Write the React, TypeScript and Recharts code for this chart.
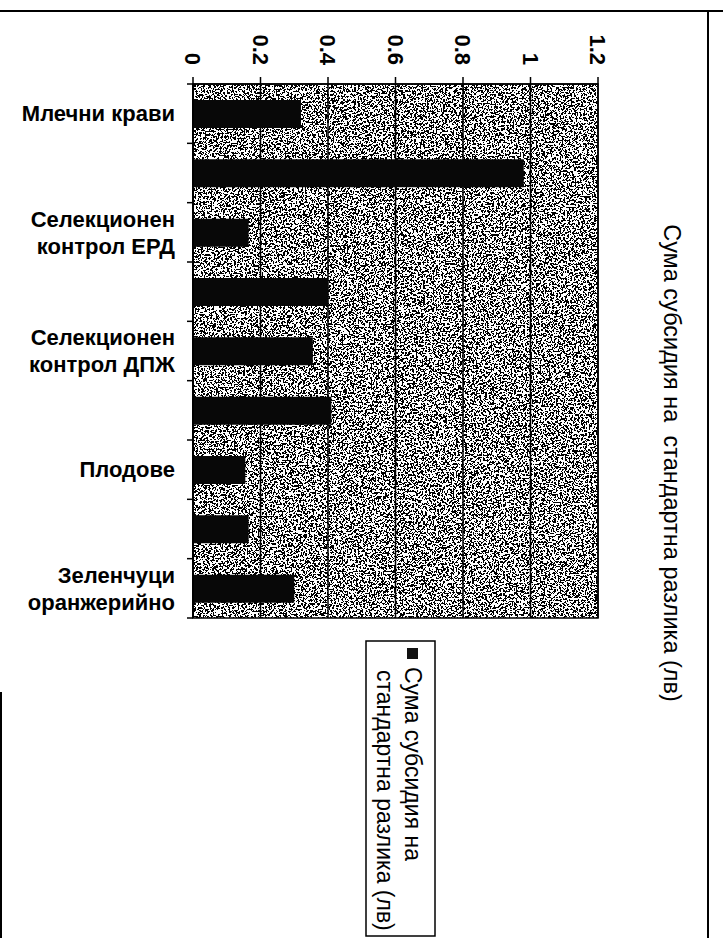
import { BarChart, Bar, XAxis, YAxis, CartesianGrid, ReferenceArea } from 'recharts';

// Excel skips every second category label, so the odd rows stay unlabelled
const categories = [
  'Млечни крави',
  '',
  'Селекционен\nконтрол ЕРД',
  '',
  'Селекционен\nконтрол ДПЖ',
  '',
  'Плодове',
  '',
  'Зеленчуци\nоранжерийно',
];
const values = [0.32, 0.98, 0.165, 0.4, 0.355, 0.41, 0.155, 0.165, 0.3];
const valueTicks = [0, 0.2, 0.4, 0.6, 0.8, 1, 1.2];
const chartTitle = 'Сума субсидия на  стандартна разлика (лв)';
const legendLines = ['Сума субсидия на', 'стандартна разлика (лв)'];

const W = 723;
const H = 938;
const MARGIN = { top: 14, right: 125, bottom: 320, left: 0 };
const X_AXIS_H = 70;
const Y_AXIS_W = 193;
const BAND = (H - MARGIN.top - X_AXIS_H - MARGIN.bottom) / categories.length;
const FONT = '"Liberation Sans", Arial, sans-serif';

const data = categories.map((name, i) => ({ id: i, name, value: values[i] }));

const ValueTick = ({ x, y, payload }: any) => (
  <g transform={`translate(${x},${y - 10}) rotate(90)`}>
    <text textAnchor="end" dy="0.35em" fontSize={22} fontWeight="bold" fill="#000" fontFamily={FONT}>
      {String(payload.value)}
    </text>
  </g>
);

const CategoryTick = ({ y, payload, index }: any) => {
  const axisX = MARGIN.left + Y_AXIS_W;
  const half = BAND / 2;
  const lines = (categories[payload.value] || '').split('\n').filter((l) => l);
  const lh = 27;
  return (
    <g>
      <line x1={axisX - 6} x2={axisX} y1={y - half} y2={y - half} stroke="#000" strokeWidth={1.5} />
      {index === categories.length - 1 && (
        <line x1={axisX - 6} x2={axisX} y1={y + half} y2={y + half} stroke="#000" strokeWidth={1.5} />
      )}
      {lines.map((l, i) => (
        <text
          key={i}
          x={axisX - 18}
          y={y - ((lines.length - 1) * lh) / 2 + i * lh}
          dy="0.35em"
          textAnchor="end"
          fontSize={22}
          fontWeight="bold"
          fill="#000"
          fontFamily={FONT}
        >
          {l}
        </text>
      ))}
    </g>
  );
};

export default function App() {
  return (
    <div style={{ position: 'absolute', left: 0, top: 0, width: W, height: H, background: '#fff', fontFamily: FONT }}>
      <svg width={0} height={0} style={{ position: 'absolute' }}>
        <defs>
          <filter id="noiseF" x="0" y="0" width="100%" height="100%" colorInterpolationFilters="sRGB">
            <feTurbulence type="fractalNoise" baseFrequency="0.55" numOctaves={2} seed={7} />
            <feColorMatrix
              type="matrix"
              values="0.33 0.33 0.33 0 0.015  0.33 0.33 0.33 0 0.015  0.33 0.33 0.33 0 0.015  0 0 0 0 1"
            />
            <feComponentTransfer>
              <feFuncR type="discrete" tableValues="0 1" />
              <feFuncG type="discrete" tableValues="0 1" />
              <feFuncB type="discrete" tableValues="0 1" />
            </feComponentTransfer>
          </filter>
          <pattern id="halftone" patternUnits="userSpaceOnUse" width={440} height={560}>
            <rect width={440} height={560} fill="#fff" filter="url(#noiseF)" />
          </pattern>
        </defs>
      </svg>
      <BarChart width={W} height={H} data={data} layout="vertical" margin={MARGIN}>
        <CartesianGrid horizontal={false} vertical stroke="#000" strokeWidth={1.5} fill="url(#halftone)" fillOpacity={1} />
        <XAxis
          type="number"
          orientation="top"
          domain={[0, 1.2]}
          ticks={valueTicks}
          height={X_AXIS_H}
          tickSize={7}
          tick={<ValueTick />}
          axisLine={{ stroke: '#000', strokeWidth: 1.5 }}
          tickLine={{ stroke: '#000', strokeWidth: 1.5 }}
          interval={0}
        />
        <YAxis
          type="category"
          dataKey="id"
          width={Y_AXIS_W}
          tick={<CategoryTick />}
          tickLine={false}
          axisLine={{ stroke: '#000', strokeWidth: 2 }}
          interval={0}
        />
        <ReferenceArea x1={0} x2={1.2} fill="none" stroke="#000" strokeWidth={1.5} ifOverflow="visible" />
        <Bar dataKey="value" fill="#080808" barSize={28} isAnimationActive={false} />
      </BarChart>
      <svg width={W} height={H} style={{ position: 'absolute', left: 0, top: 0, pointerEvents: 'none' }}>
        <line x1={0} y1={11} x2={W} y2={11} stroke="#000" strokeWidth={2} />
        <line x1={708} y1={10} x2={708} y2={H} stroke="#000" strokeWidth={2} />
        <line x1={1} y1={692} x2={1} y2={H} stroke="#000" strokeWidth={2} />
        <g transform="translate(672,463) rotate(90)">
          <text textAnchor="middle" dy="0.35em" fontSize={23.5} fill="#000" fontFamily={FONT} style={{ whiteSpace: 'pre' }}>
            {chartTitle}
          </text>
        </g>
        <g transform="translate(365,640)">
          <rect x={1} y={1} width={69} height={295} fill="#fff" stroke="#000" strokeWidth={1.5} />
          <rect x={42} y={8} width={11} height={11} fill="#111" />
          <g transform="translate(48,27) rotate(90)">
            <text dy="0.35em" fontSize={23} fill="#000" fontFamily={FONT}>{legendLines[0]}</text>
          </g>
          <g transform="translate(20,30) rotate(90)">
            <text dy="0.35em" fontSize={23} fill="#000" fontFamily={FONT}>{legendLines[1]}</text>
          </g>
        </g>
      </svg>
    </div>
  );
}
